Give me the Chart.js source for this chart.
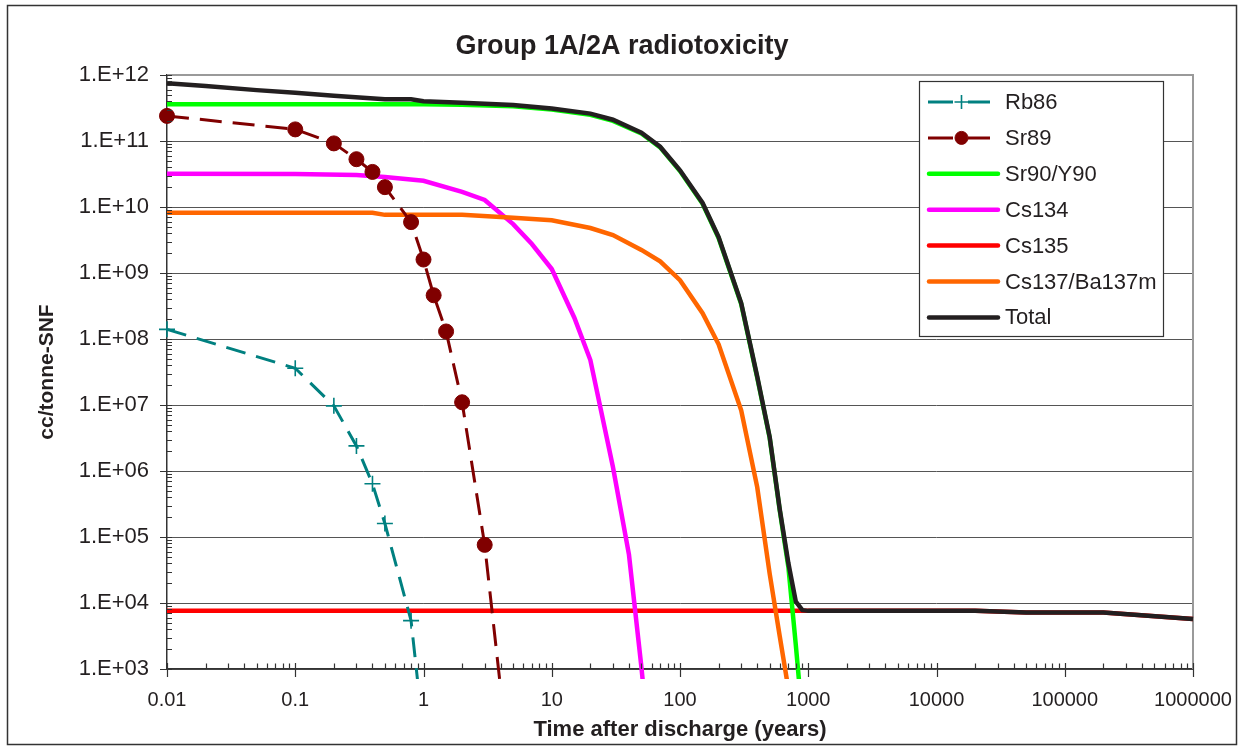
<!DOCTYPE html>
<html>
<head>
<meta charset="utf-8">
<script src="https://cdn.jsdelivr.net/npm/chart.js@4.4.1/dist/chart.umd.min.js"></script>
<style>
  html, body { margin: 0; padding: 0; background: #ffffff; }
  canvas { display: block; }
</style>
</head>
<body>
<canvas id="c" width="1244" height="749"></canvas>
<script>
// ---------- text ----------
const TITLE = 'Group 1A/2A radiotoxicity';
const X_TITLE = 'Time after discharge (years)';
const Y_TITLE = 'cc/tonne-SNF';
const SERIES_NAMES = ['Rb86', 'Sr89', 'Sr90/Y90', 'Cs134', 'Cs135', 'Cs137/Ba137m', 'Total'];

// ---------- ticks ----------
const X_TICKS = [0.01, 0.1, 1, 10, 100, 1000, 10000, 100000, 1000000];
const X_TICK_LABELS = ['0.01', '0.1', '1', '10', '100', '1000', '10000', '100000', '1000000'];
const Y_TICKS = [1e3, 1e4, 1e5, 1e6, 1e7, 1e8, 1e9, 1e10, 1e11, 1e12];
const Y_TICK_LABELS = ['1.E+03', '1.E+04', '1.E+05', '1.E+06', '1.E+07', '1.E+08', '1.E+09', '1.E+10', '1.E+11', '1.E+12'];
const MINOR_MULTIPLIERS = [2, 3, 4, 5, 6, 7, 8, 9];

// ---------- series (time in years, value in cc/tonne-SNF) ----------
const RB86_X = [0.01, 0.1, 0.2, 0.3, 0.4, 0.5, 0.8, 1];
const RB86_Y = [1.4e8, 3.6e7, 9.7e6, 2.4e6, 6.4e5, 1.6e5, 5.4e3, 1.0e2];

const SR89_X = [0.01, 0.1, 0.2, 0.3, 0.4, 0.5, 0.8, 1, 1.2, 1.5, 2, 3, 5];
const SR89_Y = [2.4e11, 1.5e11, 9.2e10, 5.3e10, 3.4e10, 2.0e10, 5.9e9, 1.6e9, 4.6e8, 1.3e8, 1.1e7, 7.6e4, 1.0e1];

const SR90_X = [0.01, 0.5, 1, 2, 5, 10, 20, 30, 50, 70, 100, 150, 200, 300, 400, 500, 600, 700, 800, 900];
const SR90_Y = [3.6e11, 3.6e11, 3.6e11, 3.55e11, 3.35e11, 3.0e11, 2.5e11, 2.02e11, 1.3e11, 8.0e10, 3.5e10, 1.12e10, 3.4e9, 3.4e8, 2.6e7, 3.2e6, 2.5e5, 3.5e4, 2.3e3, 1.8e2];

const CS134_X = [0.01, 0.1, 0.3, 0.5, 1, 2, 3, 5, 7, 10, 15, 20, 30, 40, 50, 60];
const CS134_Y = [3.2e10, 3.15e10, 3.05e10, 2.85e10, 2.5e10, 1.7e10, 1.28e10, 5.5e9, 2.75e9, 1.15e9, 2.1e8, 4.8e7, 1.15e6, 5.4e4, 1.07e3, 3.0e1];

const CS135_X = [0.01, 1000, 10000, 20000, 50000, 100000, 200000, 1000000];
const CS135_Y = [7.6e3, 7.6e3, 7.6e3, 7.6e3, 7.2e3, 7.2e3, 7.2e3, 5.7e3];

const CS137_X = [0.01, 0.1, 0.4, 0.5, 1, 2, 5, 10, 20, 30, 50, 70, 100, 150, 200, 300, 400, 500, 600, 700];
const CS137_Y = [8.2e9, 8.2e9, 8.2e9, 7.6e9, 7.6e9, 7.6e9, 6.9e9, 6.3e9, 4.8e9, 3.76e9, 2.24e9, 1.5e9, 7.8e8, 2.46e8, 8.3e7, 8.3e6, 5.7e5, 2.8e4, 3.1e3, 5.0e2];

const TOTAL_X = [0.01, 0.02, 0.05, 0.1, 0.2, 0.5, 0.8, 1, 2, 5, 10, 20, 30, 50, 70, 100, 150, 200, 300, 400, 500, 600, 700, 800, 900, 1000, 10000, 20000, 50000, 100000, 200000, 1000000];
const TOTAL_Y = [7.5e11, 6.8e11, 5.9e11, 5.4e11, 4.85e11, 4.3e11, 4.3e11, 4.0e11, 3.8e11, 3.5e11, 3.1e11, 2.6e11, 2.1e11, 1.34e11, 8.2e10, 3.6e10, 1.15e10, 3.5e9, 3.5e8, 2.7e7, 3.3e6, 2.6e5, 4.0e4, 1.05e4, 7.8e3, 7.6e3, 7.6e3, 7.6e3, 7.2e3, 7.2e3, 7.2e3, 5.7e3];

// ---------- helpers ----------
const pts = (xs, ys) => xs.map((x, i) => ({ x: x, y: ys[i] }));
const CLIP = { left: 10, top: 10, right: 10, bottom: 10 };
const TEXT_COLOR = '#231f20';
const AXIS_COLOR = '#333333';
const FONT = "'Liberation Sans', Arial, Helvetica, sans-serif";

Chart.defaults.font.family = FONT;
Chart.defaults.color = TEXT_COLOR;

const datasets = [
  { label: SERIES_NAMES[0], data: pts(RB86_X, RB86_Y), borderColor: '#008080', backgroundColor: '#008080',
    borderWidth: 3, borderDash: [20, 11], pointStyle: 'cross', pointRadius: 8, pointBorderWidth: 1.6,
    pointBorderColor: '#008080', pointBackgroundColor: '#008080', order: 2 },
  { label: SERIES_NAMES[1], data: pts(SR89_X, SR89_Y), borderColor: '#800000', backgroundColor: '#800000',
    borderWidth: 3, borderDash: [22, 11], pointStyle: 'circle', pointRadius: 7.5, pointBorderWidth: 1,
    pointBorderColor: '#800000', pointBackgroundColor: '#800000', order: 1 },
  { label: SERIES_NAMES[2], data: pts(SR90_X, SR90_Y), borderColor: '#00ff00', backgroundColor: '#00ff00',
    borderWidth: 4.5, pointRadius: 0, order: 5 },
  { label: SERIES_NAMES[3], data: pts(CS134_X, CS134_Y), borderColor: '#ff00ff', backgroundColor: '#ff00ff',
    borderWidth: 4.5, pointRadius: 0, order: 4 },
  { label: SERIES_NAMES[4], data: pts(CS135_X, CS135_Y), borderColor: '#ff0000', backgroundColor: '#ff0000',
    borderWidth: 4.5, pointRadius: 0, order: 7 },
  { label: SERIES_NAMES[5], data: pts(CS137_X, CS137_Y), borderColor: '#ff6600', backgroundColor: '#ff6600',
    borderWidth: 4.5, pointRadius: 0, order: 3 },
  { label: SERIES_NAMES[6], data: pts(TOTAL_X, TOTAL_Y), borderColor: '#231f20', backgroundColor: '#231f20',
    borderWidth: 4.5, pointRadius: 0, order: 0 }
].map(d => Object.assign({ fill: false, tension: 0, clip: CLIP, pointHoverRadius: d.pointRadius }, d));

// background + outer frame + plot area frame
const framePlugin = {
  id: 'frame',
  beforeDraw(chart) {
    const ctx = chart.ctx;
    ctx.save();
    ctx.fillStyle = '#ffffff';
    ctx.fillRect(0, 0, chart.width, chart.height);
    ctx.strokeStyle = '#333333';
    ctx.lineWidth = 1.5;
    ctx.strokeRect(7.5, 5.5, 1229, 739);
    ctx.restore();
  },
  beforeDatasetsDraw(chart) {
    const { ctx, chartArea: a } = chart;
    ctx.save();
    ctx.strokeStyle = '#9a9a9a';
    ctx.lineWidth = 2;
    ctx.beginPath();
    ctx.moveTo(a.left, a.top);
    ctx.lineTo(a.right, a.top);
    ctx.lineTo(a.right, a.bottom);
    ctx.stroke();
    ctx.restore();
  }
};

// Excel-style tick marks: majors cross the axis, minors inside
const tickPlugin = {
  id: 'excelTicks',
  afterDatasetsDraw(chart) {
    const { ctx, chartArea: a, scales } = chart;
    ctx.save();
    ctx.strokeStyle = AXIS_COLOR;
    ctx.lineWidth = 1.2;
    ctx.beginPath();
    Y_TICKS.forEach((v, i) => {
      const py = Math.round(scales.y.getPixelForValue(v)) + 0.5;
      ctx.moveTo(a.left - 7, py); ctx.lineTo(a.left + 5, py);
      if (i < Y_TICKS.length - 1) {
        MINOR_MULTIPLIERS.forEach(m => {
          const pm = Math.round(scales.y.getPixelForValue(v * m)) + 0.5;
          ctx.moveTo(a.left, pm); ctx.lineTo(a.left + 5, pm);
        });
      }
    });
    X_TICKS.forEach((v, i) => {
      const px = Math.round(scales.x.getPixelForValue(v)) + 0.5;
      ctx.moveTo(px, a.bottom - 6); ctx.lineTo(px, a.bottom + 8);
      if (i < X_TICKS.length - 1) {
        MINOR_MULTIPLIERS.forEach(m => {
          const pm = Math.round(scales.x.getPixelForValue(v * m)) + 0.5;
          ctx.moveTo(pm, a.bottom - 5.5); ctx.lineTo(pm, a.bottom);
        });
      }
    });
    ctx.stroke();
    ctx.restore();
  }
};

// legend box inside the plot area (top right)
const legendPlugin = {
  id: 'boxLegend',
  afterDraw(chart) {
    const ctx = chart.ctx;
    ctx.save();
    const bx = 919.5, by = 81.5, bw = 244, bh = 255;
    ctx.fillStyle = '#ffffff';
    ctx.fillRect(bx, by, bw, bh);
    ctx.strokeStyle = '#333333';
    ctx.lineWidth = 1.2;
    ctx.strokeRect(bx, by, bw, bh);
    chart.data.datasets.forEach((ds, i) => {
      const y = 102 + i * 35.9;
      ctx.strokeStyle = ds.borderColor;
      ctx.fillStyle = ds.borderColor;
      if (ds.pointRadius > 0) {
        ctx.lineWidth = ds.borderWidth;
        ctx.lineCap = 'butt';
        ctx.beginPath();
        ctx.moveTo(928, y); ctx.lineTo(953, y);
        ctx.moveTo(968, y); ctx.lineTo(990, y);
        ctx.stroke();
        ctx.lineWidth = ds.pointBorderWidth;
        Chart.helpers.drawPoint(ctx, {
          pointStyle: ds.pointStyle, rotation: 0,
          radius: ds.pointStyle === 'circle' ? 6.5 : 7,
          borderWidth: ds.pointBorderWidth
        }, 961.5, y);
      } else {
        ctx.lineWidth = ds.borderWidth;
        ctx.lineCap = 'round';
        ctx.beginPath();
        ctx.moveTo(929, y); ctx.lineTo(998, y);
        ctx.stroke();
      }
      ctx.fillStyle = TEXT_COLOR;
      ctx.font = "22px " + FONT;
      ctx.textAlign = 'left';
      ctx.textBaseline = 'middle';
      ctx.fillText(ds.label, 1005, y + 1);
    });
    ctx.restore();
  }
};

new Chart(document.getElementById('c'), {
  type: 'line',
  data: { datasets: datasets },
  options: {
    responsive: false,
    animation: false,
    devicePixelRatio: 1,
    events: [],
    layout: { padding: { left: 51, right: 51, top: 0, bottom: 0 } },
    plugins: {
      legend: { display: false },
      tooltip: { enabled: false },
      title: {
        display: true, text: TITLE, color: TEXT_COLOR,
        font: { size: 27, weight: 'bold' },
        padding: { top: 30.8, bottom: 11.8 }
      }
    },
    scales: {
      x: {
        type: 'logarithmic', min: X_TICKS[0], max: X_TICKS[X_TICKS.length - 1],
        afterBuildTicks: s => { s.ticks = X_TICKS.map(v => ({ value: v })); },
        afterFit: s => { s.height = 80; s.paddingLeft = 0; s.paddingRight = 0; },
        ticks: {
          callback: (v, i) => X_TICK_LABELS[i],
          autoSkip: false, maxRotation: 0, minRotation: 0, padding: 19,
          font: { size: 20 }, color: TEXT_COLOR
        },
        grid: { display: false, drawTicks: false },
        border: { display: true, color: AXIS_COLOR, width: 1.5 },
        title: { display: true, text: X_TITLE, color: TEXT_COLOR, font: { size: 22, weight: 'bold' }, padding: { top: 0, bottom: 5.8 } }
      },
      y: {
        type: 'logarithmic', min: Y_TICKS[0], max: Y_TICKS[Y_TICKS.length - 1],
        afterBuildTicks: s => { s.ticks = Y_TICKS.map(v => ({ value: v })); },
        afterFit: s => { s.width = 116; s.paddingTop = 0; s.paddingBottom = 0; },
        ticks: {
          callback: (v, i) => Y_TICK_LABELS[i],
          autoSkip: false, padding: 18,
          font: { size: 22 }, color: TEXT_COLOR
        },
        grid: { color: '#555555', lineWidth: 1, drawTicks: false },
        border: { display: true, color: AXIS_COLOR, width: 1.5 },
        title: { display: true, text: Y_TITLE, color: TEXT_COLOR, font: { size: 21, weight: 'bold' }, padding: { top: -16.6, bottom: 0 } }
      }
    }
  },
  plugins: [framePlugin, tickPlugin, legendPlugin]
});
</script>
</body>
</html>
